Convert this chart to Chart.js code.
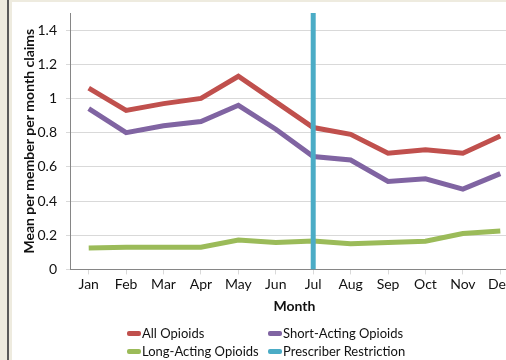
<!DOCTYPE html>
<html>
<head>
<meta charset="utf-8">
<script src="https://cdn.jsdelivr.net/npm/chart.js@4"></script>
<style>
  html, body { margin: 0; padding: 0; }
  body { width: 506px; height: 360px; overflow: hidden; background: #eeebdf; position: relative; font-family: Lato, "Open Sans", sans-serif; }
  .edge { position: absolute; left: 7px; top: 0; width: 2px; height: 360px; background: #5a5a5a; }
  .panel { position: absolute; left: 12px; top: 2px; width: 520px; height: 358px; background: #fff; }
  #legend { position: absolute; left: 127px; top: 325px; display: grid; grid-template-columns: 141px 160px; row-gap: 2px; font-size: 13px; color: #111; }
  #legend span { display: flex; align-items: center; white-space: nowrap; }
  #legend i { display: inline-block; width: 14px; height: 5px; border-radius: 2px; margin-right: 1px; }
</style>
</head>
<body>
<div class="edge"></div>
<div class="panel">
  <canvas id="chart" width="520" height="358"></canvas>
</div>
<div id="legend"></div>
<script>
const months = ['Jan', 'Feb', 'Mar', 'Apr', 'May', 'Jun', 'Jul', 'Aug', 'Sep', 'Oct', 'Nov', 'Dec'];
const allOpioids = [1.06, 0.93, 0.97, 1.0, 1.13, 0.98, 0.83, 0.79, 0.68, 0.70, 0.68, 0.78];
const shortActing = [0.94, 0.80, 0.84, 0.865, 0.96, 0.82, 0.66, 0.64, 0.515, 0.53, 0.47, 0.56];
const longActing = [0.125, 0.13, 0.13, 0.13, 0.172, 0.157, 0.166, 0.15, 0.157, 0.165, 0.21, 0.225];
const restrictionMonth = 'Jul';
const yTop = 1.5;

const series = [
  { label: 'All Opioids', data: allOpioids, color: '#c0504d' },
  { label: 'Short-Acting Opioids', data: shortActing, color: '#8064a2' },
  { label: 'Long-Acting Opioids', data: longActing, color: '#9bbb59' },
];

const datasets = series.map((s) => ({
  label: s.label,
  data: s.data,
  borderColor: s.color,
  backgroundColor: s.color,
  borderWidth: 5,
  pointRadius: 0,
  tension: 0,
  order: 1,
}));

datasets.push({
  label: 'Prescriber Restriction',
  data: [{ x: restrictionMonth, y: 0 }, { x: restrictionMonth, y: yTop }],
  borderColor: '#4bacc6',
  backgroundColor: '#4bacc6',
  borderWidth: 5,
  pointRadius: 0,
  order: 0,
});

// legend in two columns, like the original
const legend = document.getElementById('legend');
datasets.forEach((d) => {
  const item = document.createElement('span');
  item.innerHTML = '<i style="background:' + d.borderColor + '"></i>' + d.label;
  legend.appendChild(item);
});

const font = { family: 'Lato', size: 14 };

new Chart(document.getElementById('chart'), {
  type: 'line',
  data: { labels: months, datasets },
  options: {
    responsive: false,
    animation: false,
    layout: { padding: { left: 5, top: 11, right: 13, bottom: 41 }, autoPadding: false },
    plugins: { legend: { display: false }, tooltip: { enabled: false } },
    scales: {
      x: {
        type: 'category',
        offset: true,
        grid: { display: true, drawOnChartArea: false, offset: false, tickLength: 5, color: '#d9d9d9' },
        border: { color: '#868686' },
        ticks: { color: '#111', font, padding: 2, maxRotation: 0, autoSkip: false },
        title: { display: true, text: 'Month', color: '#111', font: { family: 'Lato', size: 14, weight: 'bold' }, padding: { top: 3 } },
      },
      y: {
        min: 0,
        max: yTop,
        afterFit: (scale) => {
          scale.width = 53;
          scale.paddingTop = 0;
        },
        grid: { color: '#d9d9d9', tickLength: 4 },
        border: { color: '#868686' },
        ticks: {
          stepSize: 0.2,
          includeBounds: false,
          color: '#111',
          font,
          padding: 9,
          callback: (v) => String(Math.round(v * 10) / 10),
        },
        title: { display: true, text: 'Mean per member per month claims', color: '#111', font: { family: 'Lato', size: 14, weight: 'bold' }, padding: { top: 4, bottom: 0 } },
      },
    },
  },
});
</script>
</body>
</html>
